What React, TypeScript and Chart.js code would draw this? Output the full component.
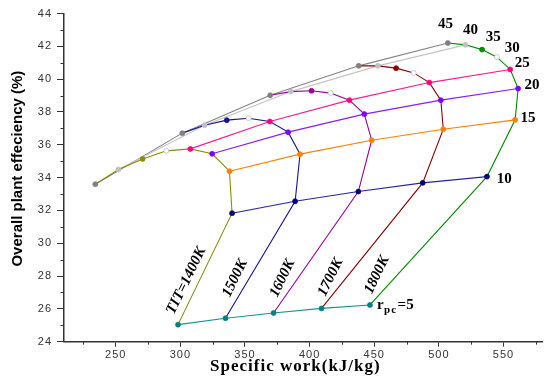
import React, { useEffect, useRef } from 'react';
import { Chart, registerables } from 'chart.js';

Chart.register(...registerables);

// Pressure ratio r_pc for each point along a TIT curve
const rpcValues = [5, 10, 15, 20, 25, 30, 35, 40, 45];
const titNames = ['1400K', '1500K', '1600K', '1700K', '1800K'];

// Specific work (kJ/kg) and overall plant efficiency (%) for each TIT
const work1400 = [298.2, 340.0, 338.0, 324.6, 307.7, 289.2, 270.8, 252.1, 234.2];
const eff1400 = [25.04, 31.83, 34.39, 35.45, 35.75, 35.63, 35.14, 34.49, 33.6];
const work1500 = [334.9, 388.8, 392.6, 383.4, 369.2, 352.8, 335.9, 318.8, 301.5];
const eff1500 = [25.43, 32.56, 35.43, 36.77, 37.42, 37.62, 37.5, 37.19, 36.71];
const work1600 = [372.1, 437.7, 448.0, 442.3, 430.8, 416.2, 401.5, 385.4, 369.5];
const eff1600 = [25.75, 33.15, 36.28, 37.87, 38.72, 39.15, 39.29, 39.24, 39.02];
const work1700 = [409.2, 487.5, 503.4, 501.5, 492.6, 480.5, 466.9, 452.8, 438.0];
const eff1700 = [26.03, 33.68, 36.95, 38.72, 39.79, 40.38, 40.67, 40.81, 40.81];
const work1800 = [446.7, 537.2, 559.0, 561.3, 555.2, 544.9, 533.4, 520.5, 506.9];
const eff1800 = [26.24, 34.06, 37.52, 39.43, 40.59, 41.34, 41.8, 42.09, 42.2];

const works = [work1400, work1500, work1600, work1700, work1800];
const effs = [eff1400, eff1500, eff1600, eff1700, eff1800];

// Colours
const titColors = ['#8c8c00', '#14148c', '#990099', '#8b0000', '#008a00'];
const rpcLineColors = ['#149494', '#2424a8', '#ff8000', '#8c1aff', '#ff1a8c', null, null, '#c4c4c4', '#848484'];
const rpcMarkerColors = ['#008080', '#000080', '#ff8000', '#8000ff', '#ff0080', '#ffffff', null, '#c0c0c0', '#808080'];

// Axis settings
const xMin = 210;
const xMax = 580;
const xStep = 50;
const yMin = 24;
const yMax = 44;
const yStep = 2;

// Text annotations (data coordinates)
const rpcLabelText = ['10', '15', '20', '25', '30', '35', '40', '45'];
const rpcLabelX = [550.5, 569.0, 572.1, 564.4, 556.7, 542.1, 524.4, 505.2];
const rpcLabelY = [33.92, 37.64, 39.65, 40.99, 41.9, 42.58, 43.0, 43.37];
const titLabelText = ['TIT=1400K', '1500K', '1600K', '1700K', '1800K'];
const titLabelX = [304.6, 342.3, 379.0, 416.2, 452.1];
const titLabelY = [27.72, 27.87, 27.87, 27.93, 28.07];
const rpc5Label = { x: 452.1, y: 26.3 };

const xTitle = 'Specific work(kJ/kg)';
const yTitle = 'Overall plant effeciency (%)';

const annotationPlugin = {
  id: 'annotations',
  beforeDraw(chart: any) {
    chart.ctx.letterSpacing = '1px';
  },
  afterDraw(chart: any) {
    const { ctx, chartArea, scales } = chart;
    const x = scales.x;
    const y = scales.y;
    ctx.save();
    ctx.letterSpacing = '0px';

    // minor ticks
    ctx.strokeStyle = '#333';
    ctx.lineWidth = 1;
    ctx.beginPath();
    for (let v = yMin + yStep / 2; v < yMax; v += yStep) {
      const py = Math.round(y.getPixelForValue(v)) + 0.5;
      ctx.moveTo(chartArea.left - 3.5, py);
      ctx.lineTo(chartArea.left, py);
    }
    for (let v = 225; v <= xMax; v += xStep) {
      const px = Math.round(x.getPixelForValue(v)) + 0.5;
      ctx.moveTo(px, chartArea.bottom);
      ctx.lineTo(px, chartArea.bottom + 3);
    }
    ctx.stroke();

    ctx.fillStyle = '#000';

    // y title
    ctx.save();
    ctx.translate(chartArea.left - 46, (chartArea.top + chartArea.bottom) / 2 - 9);
    ctx.rotate(-Math.PI / 2);
    ctx.font = 'bold 15px "Liberation Sans"';
    ctx.textAlign = 'center';
    ctx.textBaseline = 'middle';
    ctx.fillText(yTitle, 0, 0);
    ctx.restore();

    // x title
    ctx.save();
    ctx.font = 'bold 17px "Liberation Serif"';
    ctx.letterSpacing = '1px';
    ctx.textAlign = 'center';
    ctx.textBaseline = 'middle';
    ctx.fillText(xTitle, x.getPixelForValue(389), chartArea.bottom + 25);
    ctx.restore();

    // rpc labels
    ctx.font = 'bold 15px "Liberation Serif"';
    ctx.textAlign = 'center';
    ctx.textBaseline = 'middle';
    rpcLabelText.forEach((t, i) => {
      ctx.fillText(t, x.getPixelForValue(rpcLabelX[i]), y.getPixelForValue(rpcLabelY[i]));
    });

    // r_pc = 5
    const bx = x.getPixelForValue(rpc5Label.x);
    const by = y.getPixelForValue(rpc5Label.y) + 5;
    ctx.textAlign = 'left';
    ctx.textBaseline = 'alphabetic';
    ctx.font = 'bold 15px "Liberation Serif"';
    ctx.fillText('r', bx, by);
    const rw = ctx.measureText('r').width;
    ctx.font = 'bold 11px "Liberation Serif"';
    ctx.letterSpacing = '1px';
    ctx.fillText('pc', bx + rw + 0.5, by + 4);
    const pw = ctx.measureText('pc').width;
    ctx.letterSpacing = '0px';
    ctx.font = 'bold 15px "Liberation Serif"';
    ctx.fillText('=5', bx + rw + pw + 1, by);

    // TIT labels (rotated)
    ctx.font = 'bold italic 15px "Liberation Serif"';
    ctx.textAlign = 'center';
    ctx.textBaseline = 'middle';
    titLabelText.forEach((t, i) => {
      ctx.save();
      ctx.translate(x.getPixelForValue(titLabelX[i]), y.getPixelForValue(titLabelY[i]));
      ctx.rotate((-64 * Math.PI) / 180);
      ctx.fillText(t, 0, 0);
      ctx.restore();
    });

    ctx.restore();
  },
};

export default function App() {
  const ref = useRef<HTMLCanvasElement>(null);

  useEffect(() => {
    const markerSets = titNames.map((name, i) => ({
      label: name + ' points',
      data: rpcValues.map((_, j) => ({ x: works[i][j], y: effs[i][j] })),
      showLine: false,
      pointRadius: 2.5,
      pointBorderWidth: 0.7,
      pointBackgroundColor: rpcValues.map((_, j) => rpcMarkerColors[j] ?? titColors[i]),
      pointBorderColor: rpcValues.map((_, j) => (j === 5 ? '#b8b8b8' : rpcMarkerColors[j] ?? titColors[i])),
    }));

    const titLines = titNames.map((name, i) => ({
      label: name,
      data: rpcValues.map((_, j) => ({ x: works[i][j], y: effs[i][j] })),
      showLine: true,
      borderColor: titColors[i],
      borderWidth: 1.1,
      pointRadius: 0,
    }));

    const rpcLines: any[] = [];
    rpcValues.forEach((r, j) => {
      const c = rpcLineColors[j];
      if (!c) return;
      rpcLines.push({
        label: 'rpc ' + r,
        data: titNames.map((_, i) => ({ x: works[i][j], y: effs[i][j] })),
        showLine: true,
        borderColor: c,
        borderWidth: 1.1,
        pointRadius: 0,
      });
    });

    const chart = new Chart(ref.current as HTMLCanvasElement, {
      type: 'scatter',
      data: { datasets: [...markerSets, ...titLines, ...rpcLines] as any },
      options: {
        responsive: false,
        animation: false,
        devicePixelRatio: 1,
        layout: { padding: { top: 13.5, right: 2, left: 0, bottom: 0 } },
        elements: { line: { tension: 0 } },
        plugins: { legend: { display: false }, tooltip: { enabled: false } },
        scales: {
          x: {
            type: 'linear',
            min: xMin,
            max: xMax,
            afterFit: (s: any) => {
              s.height = 37.3;
            },
            ticks: {
              stepSize: xStep,
              includeBounds: false,
              padding: 2,
              color: '#333',
              font: { family: 'Liberation Sans', size: 11 },
            },
            grid: { drawOnChartArea: false, tickLength: 5, color: '#333', tickWidth: 1 },
            border: { color: '#333', width: 1.5 },
          },
          y: {
            type: 'linear',
            min: yMin,
            max: yMax,
            afterFit: (s: any) => {
              s.width = 64;
            },
            ticks: {
              stepSize: yStep,
              padding: 5,
              color: '#333',
              font: { family: 'Liberation Sans', size: 11 },
            },
            grid: { drawOnChartArea: false, tickLength: 7, color: '#333', tickWidth: 1 },
            border: { color: '#333', width: 1.5 },
          },
        },
      },
      plugins: [annotationPlugin],
    });
    return () => chart.destroy();
  }, []);

  return (
    <div style={{ position: 'fixed', left: 0, top: 0, width: 547, height: 379, background: '#fff' }}>
      <canvas ref={ref} width={547} height={379} style={{ display: 'block', width: 547, height: 379 }} />
    </div>
  );
}
